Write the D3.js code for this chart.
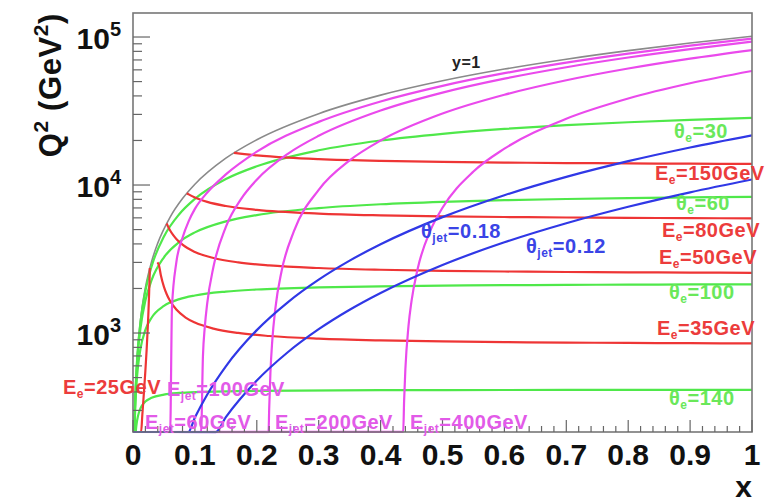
<!DOCTYPE html>
<html><head><meta charset="utf-8">
<script src="https://cdn.jsdelivr.net/npm/d3@7"></script>
<style>
body{margin:0;background:#fff}
svg{display:block}
text{font-family:"Liberation Sans",Arial,Helvetica,sans-serif;font-weight:bold}
</style>
</head><body>
<svg id="c" width="767" height="503"></svg>
<script>
// ---------- axis setup ----------
const xDomain = [0, 1];
const q2Range = [214.4, 145300];
const xTicks = [0,0.1,0.2,0.3,0.4,0.5,0.6,0.7,0.8,0.9,1];
const xTickLabels = ["0","0.1","0.2","0.3","0.4","0.5","0.6","0.7","0.8","0.9","1"];
const yMajorTicks = [1e3, 1e4, 1e5];
const yTickExp = ["3","4","5"];

// ---------- curves: [x, Q2] ----------
const yOne = [[0.00212,214.5],[0.003,304],[0.004,405],[0.006,607],[0.008,810],[0.01,1012],[0.015,1518],[0.02,2024],[0.03,3036],[0.04,4048],[0.06,6072],[0.08,8096],[0.1,10120],[0.15,15180],[0.2,20240],[0.3,30360],[0.4,40480],[0.5,50600],[0.6,60720],[0.7,70840],[0.8,80960],[0.9,91080],[1.0,101200]];

const thetaE30 = [[0.00213,214.4],[0.003,301.3],[0.005,499.6],[0.008,793.3],[0.012,1178],[0.02,1925],[0.03,2819],[0.05,4485],[0.075,6367],[0.1,8056],[0.15,10966],[0.2,13383],[0.3,17166],[0.4,19992],[0.5,22183],[0.6,23932],[0.7,25360],[0.8,26548],[0.9,27552],[1.0,28411]];
const thetaE60 = [[0.00217,214.4],[0.003,293.8],[0.005,479.3],[0.008,743.3],[0.012,1071],[0.02,1655],[0.03,2275],[0.05,3249],[0.075,4133],[0.1,4785],[0.15,5680],[0.2,6266],[0.3,6987],[0.4,7413],[0.5,7695],[0.6,7895],[0.7,8045],[0.8,8160],[0.9,8253],[1.0,8328]];
const thetaE100 = [[0.00235,214.4],[0.003,266.5],[0.004,341.4],[0.006,474.9],[0.008,590.4],[0.012,779.9],[0.02,1050],[0.03,1269],[0.05,1524],[0.075,1694],[0.1,1794],[0.15,1906],[0.2,1968],[0.3,2034],[0.4,2069],[0.5,2090],[0.6,2105],[0.7,2115],[0.8,2123],[0.9,2129],[1.0,2134]];
const thetaE140 = [[0.00437,214.1],[0.005,228],[0.006,246.5],[0.008,274.4],[0.012,309.3],[0.02,344.4],[0.03,365.1],[0.05,383.5],[0.075,393.5],[0.1,398.7],[0.2,406.7],[0.4,410.8],[0.6,412.2],[0.8,412.9],[1.0,413.3]];

const eE25 = [[0,214.4],[0.0131,214.5],[0.015,277],[0.018,416.3],[0.02,556],[0.022,766.7],[0.024,1120],[0.025,1406],[0.026,1837],[0.0265,2149],[0.027,2568],[0.02717,2746]];
const eE35 = [[0.0395,3000],[0.042,2862],[0.045,2457],[0.05,2051],[0.055,1807],[0.06,1644],[0.07,1440],[0.085,1272],[0.1,1177],[0.13,1071],[0.17,1001],[0.22,954.7],[0.3,916.3],[0.4,891.6],[0.5,877.5],[0.6,868.3],[0.7,861.8],[0.8,857],[0.9,853.4],[1.0,850.4]];
const eE50 = [[0.05435,5500],[0.056,5309],[0.06,4932],[0.065,4582],[0.07,4320],[0.08,3951],[0.1,3530],[0.13,3214],[0.17,3003],[0.22,2864],[0.3,2749],[0.4,2675],[0.5,2632],[0.6,2605],[0.7,2585],[0.8,2571],[0.9,2560],[1.0,2551]];
const eE80 = [[0.08696,8800],[0.09,8647],[0.1,8237],[0.12,7691],[0.15,7212],[0.2,6790],[0.3,6414],[0.4,6241],[0.5,6142],[0.6,6078],[0.7,6033],[0.8,5999],[0.9,5973],[1.0,5953]];
const eE150 = [[0.16304,16500],[0.18,16158],[0.2,15843],[0.25,15305],[0.3,14966],[0.4,14563],[0.5,14332],[0.6,14182],[0.7,14076],[0.8,13998],[0.9,13938],[1.0,13890]];

const eJet60 = [[0,214.4],[0.06,214.4],[0.063,1500],[0.07,3000],[0.08,4400],[0.09,5700],[0.1,6900],[0.12,8900],[0.15,11800],[0.2,16800],[0.3,26700],[0.4,36700],[0.5,46800],[0.6,56958],[0.7,67105],[0.8,77246],[0.9,87382],[1.0,97515]];
const eJet100 = [[0,214.4],[0.11,214.5],[0.113,700],[0.116,1100],[0.12,1600],[0.13,2800],[0.15,5220],[0.175,8092],[0.2,10864],[0.25,16242],[0.3,21502],[0.4,31861],[0.5,42118],[0.6,52327],[0.7,62509],[0.8,72675],[0.9,82831],[1.0,92981]];
const eJet200 = [[0,214.4],[0.219,214.2],[0.22,305.5],[0.222,539],[0.225,888],[0.23,1467],[0.24,2614],[0.26,4872],[0.3,9285],[0.35,14673],[0.4,19973],[0.5,30419],[0.6,40750],[0.7,51018],[0.8,61248],[0.9,71453],[1.0,81640]];
const eJet400 = [[0,214.4],[0.4365,214.8],[0.438,349.5],[0.44,566.5],[0.445,1109],[0.45,1650],[0.46,2729],[0.48,4880],[0.5,7020],[0.55,12330],[0.6,17597],[0.7,28037],[0.8,38395],[0.9,48698],[1.0,58963]];

const thetaJet018 = [[0,214.4],[0.08925,214.4],[0.1,268.4],[0.12,384.5],[0.15,596],[0.2,1046],[0.25,1613],[0.3,2294],[0.35,3084],[0.4,3978],[0.5,6067],[0.6,8531],[0.7,11346],[0.8,14488],[0.9,17935],[1.0,21669]];
const thetaJet012 = [[0,214.4],[0.1335,214.3],[0.15,270],[0.2,477.2],[0.25,741.2],[0.3,1061],[0.35,1436],[0.4,1865],[0.5,2881],[0.6,4101],[0.7,5520],[0.8,7131],[0.9,8926],[1.0,10902]];

// ---------- layout ----------
const L = 133, R = 752, T = 13, B = 432;
const COL = {gray:"#8a8a8a", green:"#4fe84a", red:"#ee3535", mag:"#ea4aec", blue:"#3038e6"};
const TXT = {green:"#6ae85a", red:"#ec3c3c", mag:"#e25ae8", blue:"#3a44e6", black:"#222"};

const svg = d3.select("#c");
const x = d3.scaleLinear().domain(xDomain).range([L, R]);
const y = d3.scaleLog().domain(q2Range).range([B, T]);

svg.append("defs").append("clipPath").attr("id","clip")
  .append("rect").attr("x",L).attr("y",T).attr("width",R-L).attr("height",B-T+1.5);

const line = d3.line().x(d=>x(d[0])).y(d=>y(d[1])).curve(d3.curveMonotoneX);
const plot = svg.append("g").attr("clip-path","url(#clip)");

const groups = [
  {data:[yOne], color:COL.gray, w:1.6},
  {data:[thetaE30,thetaE60,thetaE100,thetaE140], color:COL.green, w:2.2},
  {data:[eE25,eE35,eE50,eE80,eE150], color:COL.red, w:2.2},
  {data:[eJet60,eJet100,eJet200,eJet400], color:COL.mag, w:2.2},
  {data:[thetaJet018,thetaJet012], color:COL.blue, w:2.2}
];
groups.forEach(g=>{
  plot.selectAll(null).data(g.data).enter().append("path")
    .attr("d",line).attr("fill","none").attr("stroke",g.color)
    .attr("stroke-width",g.w).attr("stroke-linejoin","round");
});

// ---------- frame & ticks ----------
svg.append("rect").attr("x",L).attr("y",T).attr("width",R-L).attr("height",B-T)
  .attr("fill","none").attr("stroke","#777").attr("stroke-width",1.6);

const tk = svg.append("g").attr("stroke","#666").attr("stroke-width",1.2);
const xMinor = d3.range(0,51).map(i=>i/50);
xMinor.forEach((v,i)=>{
  const len = (i%5===0) ? 12 : 6;
  tk.append("line").attr("x1",x(v)).attr("x2",x(v)).attr("y1",B).attr("y2",B-len);
});
const yMinor = [];
[100,1000,10000,100000].forEach(dec=>{ for(let k=1;k<10;k++){ const v=dec*k; if(v>=q2Range[0]&&v<=q2Range[1]) yMinor.push([v,k===1]); } });
yMinor.forEach(([v,maj])=>{
  tk.append("line").attr("x1",L).attr("x2",L+(maj?17:9)).attr("y1",y(v)).attr("y2",y(v));
});

// tick labels
svg.selectAll(null).data(xTicks).enter().append("text")
  .attr("x",d=>x(d)).attr("y",465).attr("text-anchor","middle")
  .attr("font-size",30).attr("fill","#111")
  .text((d,i)=>xTickLabels[i]);

yMajorTicks.forEach((v,i)=>{
  const t = svg.append("text").attr("x",121).attr("y",y(v)+12).attr("text-anchor","end")
    .attr("font-size",30).attr("fill","#111");
  t.append("tspan").text("10");
  t.append("tspan").attr("font-size",20).attr("dy",-13).text(yTickExp[i]);
});

// axis titles
const yt = svg.append("text").attr("transform","translate(61,13) rotate(-90)")
  .attr("text-anchor","end").attr("font-size",31).attr("letter-spacing",0.6).attr("fill","#111");
yt.append("tspan").text("Q");
yt.append("tspan").attr("font-size",21).attr("dy",-13).text("2");
yt.append("tspan").attr("dy",13).text(" (GeV");
yt.append("tspan").attr("font-size",21).attr("dy",-13).text("2");
yt.append("tspan").attr("dy",13).text(")");

svg.append("text").attr("x",752).attr("y",497).attr("text-anchor","end")
  .attr("font-size",30).attr("fill","#111").text("x");

// ---------- curve labels ----------
function lab(px, py, main, sub, rest, color, size){
  size = size || 20;
  const t = svg.append("text").attr("x",px).attr("y",py).attr("font-size",size)
    .attr("letter-spacing",0.5).attr("fill",color);
  t.append("tspan").text(main);
  if(sub){
    t.append("tspan").attr("font-size",size*0.6).attr("dy",4).text(sub);
    t.append("tspan").attr("dy",-4).text(rest);
  }
}
lab(452,68,"y=1",null,null,TXT.black,16);
lab(674,138,"θ","e","=30",TXT.green);
lab(655,180,"E","e","=150GeV",TXT.red);
lab(676,210,"θ","e","=60",TXT.green);
lab(662,237,"E","e","=80GeV",TXT.red);
lab(659,264,"E","e","=50GeV",TXT.red);
lab(669,299,"θ","e","=100",TXT.green);
lab(657,335,"E","e","=35GeV",TXT.red);
lab(669,405,"θ","e","=140",TXT.green);
lab(63,394,"E","e","=25GeV",TXT.red);
lab(167,396,"E","jet","=100GeV",TXT.mag);
lab(145,429,"E","jet","=60GeV",TXT.mag);
lab(275,429,"E","jet","=200GeV",TXT.mag);
lab(410,429,"E","jet","=400GeV",TXT.mag);
lab(421,238,"θ","jet","=0.18",TXT.blue);
lab(526,253,"θ","jet","=0.12",TXT.blue);
</script>
</body></html>
